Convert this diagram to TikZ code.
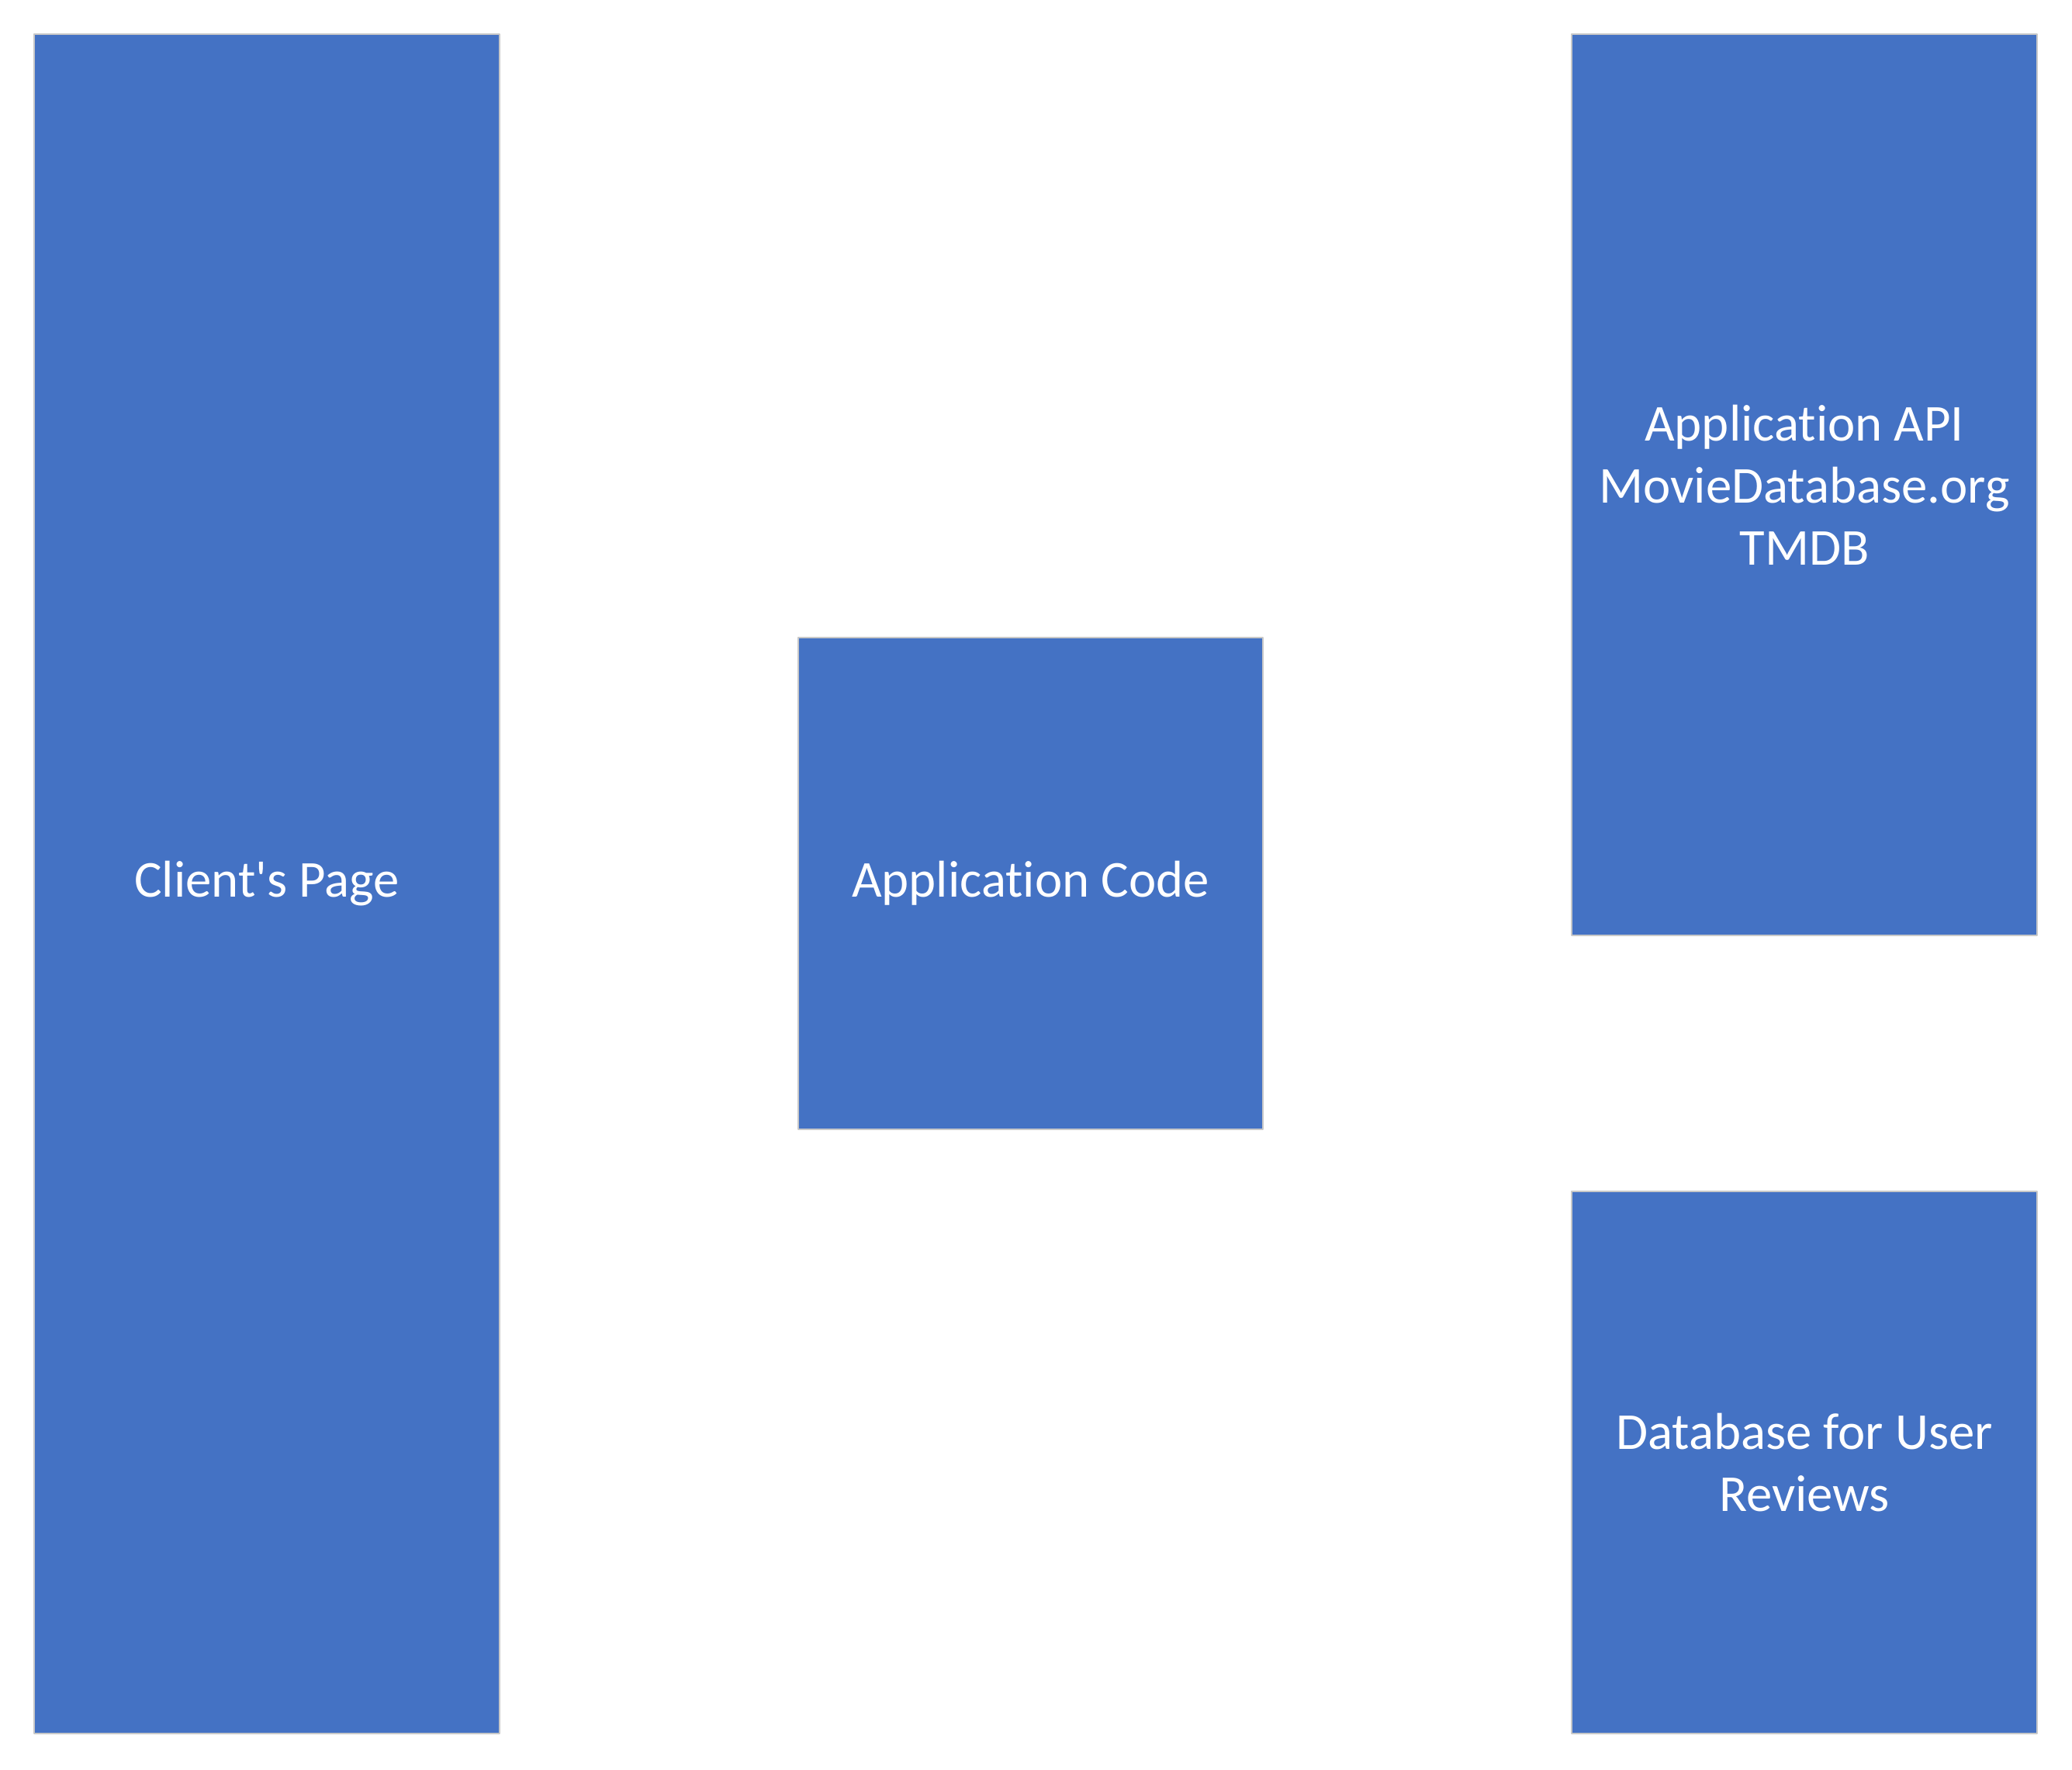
\documentclass[tikz,border=0pt]{standalone}
\usepackage{fontspec}
\setmainfont[Ligatures=NoCommon]{Carlito}
\definecolor{boxblue}{HTML}{4472C4}
\definecolor{boxedge}{HTML}{C8C8C8}
\begin{document}
\begin{tikzpicture}[line join=round,every node/.style={font=\fontsize{19}{22.8}\selectfont},
	blockbox/.style={draw=boxedge,line width=0.6pt,fill=boxblue,text=white,align=center,inner sep=0pt,minimum width=6cm}]
			\useasboundingbox (0,0) rectangle (26.71,22.81);
			\path
			(3.44,11.415) coordinate (C)
			(13.285,11.42) coordinate (P)
			(23.26,16.56) coordinate (T)
			(23.26,3.955) coordinate (R);
			\node[blockbox,minimum height=21.91cm] (client) at (C) {Client\textquotesingle s Page};
			\node[blockbox,minimum width=5.99cm,minimum height=6.34cm] (code) at (P) {Application Code};
			\node[blockbox,minimum height=11.62cm] (api) at (T) {Application API\\MovieDatabase.org\\TMDB};
			\node[blockbox,minimum height=6.99cm] (reviews) at (R) {Database for User\\Reviews};
		\end{tikzpicture}
\end{document}
